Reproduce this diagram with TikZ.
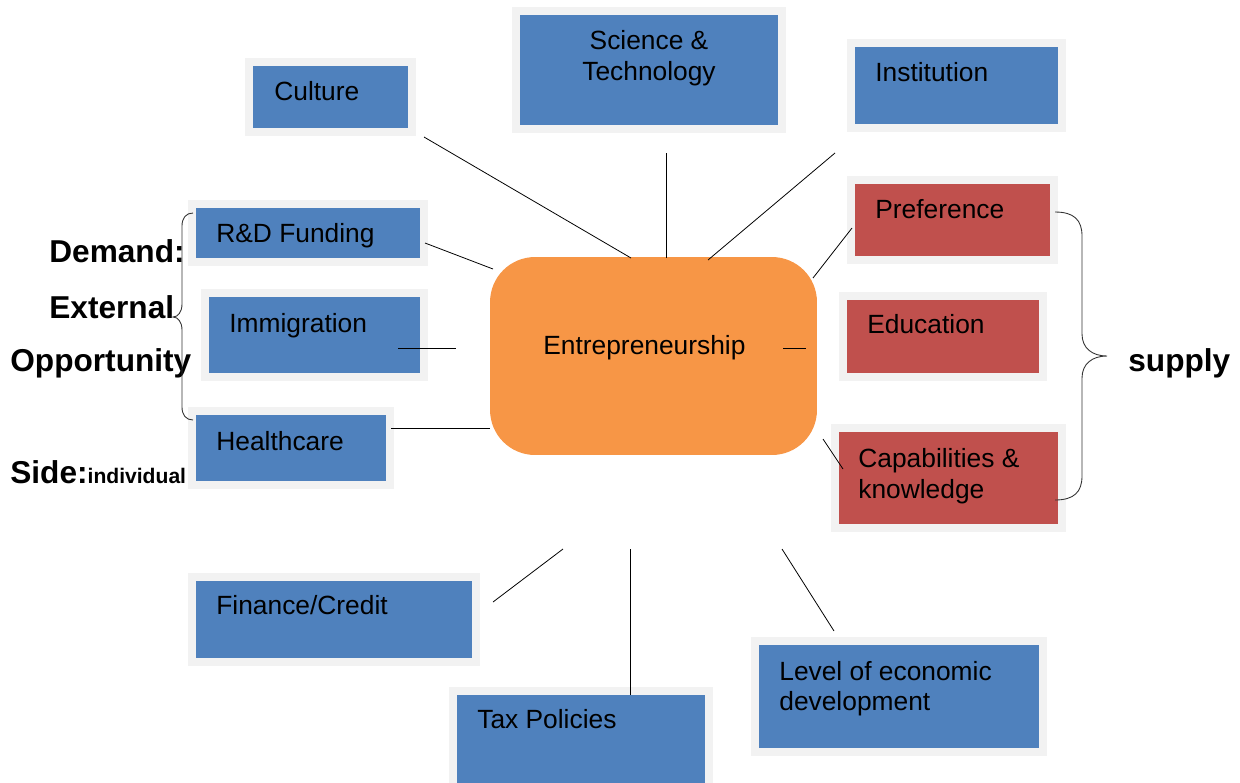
\documentclass[tikz,border=0pt]{standalone}
\usepackage{fontspec}
\setmainfont{Liberation Sans}
\usetikzlibrary{positioning}

\definecolor{boxblue}{HTML}{4F81BD}
\definecolor{boxred}{HTML}{C0504D}
\definecolor{coreorange}{HTML}{F79646}
\definecolor{rimgray}{HTML}{F2F2F2}

\begin{document}
\begin{tikzpicture}[x=0.02cm, y=-0.02cm,
    factor/.style={rectangle, draw=rimgray, line width=0.16cm, inner sep=0pt, fill=boxblue},
    supplybox/.style={factor, fill=boxred},
    core/.style={rectangle, rounded corners=0.9cm, fill=coreorange, inner sep=0pt, minimum width=6.54cm, minimum height=3.96cm},
    lbl/.style={inner sep=0pt, font=\fontsize{15}{17.6}\selectfont, align=left, anchor=west},
    side/.style={inner sep=0pt, font=\fontsize{18}{21}\selectfont\bfseries, anchor=west},
    link/.style={black, line width=0.45pt},
    brace/.style={black!80, line width=0.5pt}
]
\useasboundingbox (0,0) rectangle (1240,782);

% Centre
\node[core] (entre) at (653.5,356) {};
\node[lbl] (entre-t) at (543,348) {Entrepreneurship};

% Demand side factors (blue)
\node[factor, minimum width=3.26cm, minimum height=1.40cm] (culture) at (330.5,97) {};
\node[factor, minimum width=5.32cm, minimum height=2.36cm] (science) at (649,70) {};
\node[factor, minimum width=4.22cm, minimum height=1.70cm] (institution) at (956.5,85.5) {};
\node[factor, minimum width=4.64cm, minimum height=1.16cm] (rnd) at (308,233) {};
\node[factor, minimum width=4.38cm, minimum height=1.68cm] (immigration) at (314.5,335) {};
\node[factor, minimum width=3.96cm, minimum height=1.48cm] (health) at (291,448) {};
\node[factor, minimum width=5.68cm, minimum height=1.70cm] (finance) at (334,619.5) {};
\node[factor, minimum width=5.12cm, minimum height=2.18cm] (tax) at (581,745.5) {};
\node[factor, minimum width=5.76cm, minimum height=2.22cm] (level) at (899,696.5) {};

% Supply side factors (red)
\node[supplybox, minimum width=4.06cm, minimum height=1.60cm] (preference) at (952.5,220) {};
\node[supplybox, minimum width=4.00cm, minimum height=1.62cm] (education) at (943,336.5) {};
\node[supplybox, minimum width=4.54cm, minimum height=2.00cm] (capab) at (948.5,478) {};

% Box texts
\node[lbl] (culture-t) at (274,91) {Culture};
\node[lbl, anchor=center, align=center] (science-t) at (649,58.5) {Science \&\\Technology};
\node[lbl] (institution-t) at (875,72) {Institution};
\node[lbl] (rnd-t) at (216,236) {R\&D Funding};
\node[lbl] (immigration-t) at (229,326) {Immigration};
\node[lbl] (health-t) at (216,441) {Healthcare};
\node[lbl] (finance-t) at (216,605) {Finance/Credit};
\node[lbl] (tax-t) at (477,719) {Tax Policies};
\node[lbl, font=\fontsize{15}{17}\selectfont] (level-t) at (779,689) {Level of economic\\development};
\node[lbl] (preference-t) at (875,209) {Preference};
\node[lbl] (education-t) at (867,324) {Education};
\node[lbl] (capab-t) at (858,476.5) {Capabilities \&\\knowledge};

% Side labels
\node[side] (demand) at (49,251) {Demand:};
\node[side] (external) at (49,307) {External};
\node[side] (opportunity) at (10,363) {Opportunity};
\node[side] (sidelbl) at (10,472) {Side:{\fontsize{12}{14}\selectfont individual}};
\node[side] (supply) at (1128,363) {supply};

% Connector ends
\coordinate (cu-a) at (424,137);  \coordinate (cu-b) at (631,258);
\coordinate (sc-a) at (666,153);  \coordinate (sc-b) at (666,258);
\coordinate (in-a) at (835,153);  \coordinate (in-b) at (708,260);
\coordinate (rd-a) at (425,243);  \coordinate (rd-b) at (493,269);
\coordinate (im-a) at (398,348);  \coordinate (im-b) at (456,348);
\coordinate (he-a) at (391,428);  \coordinate (he-b) at (490,428);
\coordinate (ed-a) at (783,348);  \coordinate (ed-b) at (806,348);
\coordinate (pr-a) at (852,228);  \coordinate (pr-b) at (813,278);
\coordinate (ca-a) at (823,439);  \coordinate (ca-b) at (843,469);
\coordinate (fi-a) at (563,549);  \coordinate (fi-b) at (493,602);
\coordinate (ta-a) at (630,549);  \coordinate (ta-b) at (630,695);
\coordinate (le-a) at (782,549);  \coordinate (le-b) at (834,631);

\path[link]
    (cu-a) edge (cu-b)
    (sc-a) edge (sc-b)
    (in-a) edge (in-b)
    (rd-a) edge (rd-b)
    (im-a) edge (im-b)
    (he-a) edge (he-b)
    (ed-a) edge (ed-b)
    (pr-a) edge (pr-b)
    (ca-a) edge (ca-b)
    (fi-a) edge (fi-b)
    (ta-a) edge (ta-b)
    (le-a) edge (le-b);

% Braces
\draw[brace] (193,213) .. controls (186,213) and (182,218) .. (182,226) -- (182,304)
    .. controls (182,312) and (178,317) .. (173,317)
    .. controls (178,317) and (182,322) .. (182,330) -- (182,407)
    .. controls (182,415) and (186,420) .. (193,420);
\draw[brace] (1055,212) .. controls (1074,212) and (1082,220) .. (1082,236) -- (1082,334)
    .. controls (1082,348) and (1092,356) .. (1107,356)
    .. controls (1092,356) and (1082,364) .. (1082,378) -- (1082,476)
    .. controls (1082,492) and (1074,500) .. (1055,500);

\end{tikzpicture}
\end{document}
